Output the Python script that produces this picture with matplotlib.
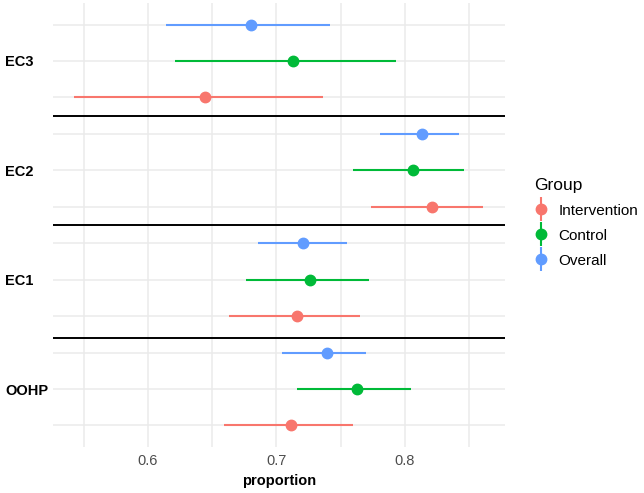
import numpy as np
import matplotlib
matplotlib.use('Agg')
from matplotlib import pyplot as plt
from matplotlib.lines import Line2D
from matplotlib.legend_handler import HandlerTuple

plt.rcParams['font.family'] = ['Liberation Sans', 'DejaVu Sans']

# data
outcomes = ['OOHP', 'EC1', 'EC2', 'EC3']
groups = ['Intervention', 'Control', 'Overall']
colors = ['#F8766D', '#00BA38', '#619CFF']

est = {
    'Intervention': [0.711, 0.716, 0.821, 0.644],
    'Control':      [0.763, 0.726, 0.806, 0.713],
    'Overall':      [0.739, 0.721, 0.813, 0.680],
}
lower = {
    'Intervention': [0.659, 0.663, 0.774, 0.542],
    'Control':      [0.716, 0.676, 0.760, 0.621],
    'Overall':      [0.704, 0.686, 0.781, 0.614],
}
upper = {
    'Intervention': [0.760, 0.765, 0.861, 0.736],
    'Control':      [0.805, 0.772, 0.846, 0.793],
    'Overall':      [0.770, 0.755, 0.842, 0.742],
}
separators = [1.47, 2.5, 3.5]

fig = plt.figure(figsize=(6.44, 4.93), dpi=100)
ax = fig.add_axes([53/644, 1 - 447/493, (505-53)/644, (447-3)/493])

base = np.arange(1, len(outcomes) + 1)
offsets = [-1/3, 0, 1/3]

# grid lines at every dodged row and x ticks
for off in offsets:
    for b in base:
        ax.axhline(b + off, color='#EBEBEB', lw=1.1, zorder=0)
for xv in [0.55, 0.6, 0.65, 0.7, 0.75, 0.8, 0.85]:
    ax.axvline(xv, color='#EBEBEB', lw=1.1, zorder=0)

for g, c, off in zip(groups, colors, offsets):
    y = base + off
    ax.hlines(y, lower[g], upper[g], color=c, lw=1.5, zorder=2)
    ax.plot(est[g], y, 'o', color=c, ms=7.5, zorder=3)

for s in separators:
    ax.axhline(s, color='black', lw=1.4, zorder=4)

ax.set_xlim(0.526, 0.878)
ax.set_ylim(0.47, 4.53)
ax.set_xticks([0.6, 0.7, 0.8])
ax.set_xticklabels(['0.6', '0.7', '0.8'], color='#4D4D4D', fontsize=10.5)
ax.set_yticks(base)
ax.set_yticklabels(outcomes, fontsize=10.5, fontweight='bold', color='black')
ax.tick_params(length=0, pad=5)
ax.tick_params(axis='y', pad=0)
for lab in ax.get_yticklabels():
    lab.set_horizontalalignment('left')
    lab.set_x(-53/452 + 5/452)
for sp in ax.spines.values():
    sp.set_visible(False)
ax.set_xlabel('proportion', fontsize=10.5, fontweight='bold', labelpad=4)

handles = [(Line2D([], [], color=c, marker='|', ms=17, mew=1.5, ls='none'),
            Line2D([], [], color=c, marker='o', ms=7.5, ls='none')) for c in colors]
leg = fig.legend(handles, groups, title='Group', loc='upper left',
                 bbox_to_anchor=(520/644, 1 - 164/493), frameon=False,
                 handler_map={tuple: HandlerTuple(ndivide=1, pad=0)},
                 fontsize=11, title_fontsize=12.5, handlelength=1.0,
                 handletextpad=0.6, labelspacing=0.72)
leg._legend_box.align = 'left'

fig.savefig('out.png', dpi=100)
